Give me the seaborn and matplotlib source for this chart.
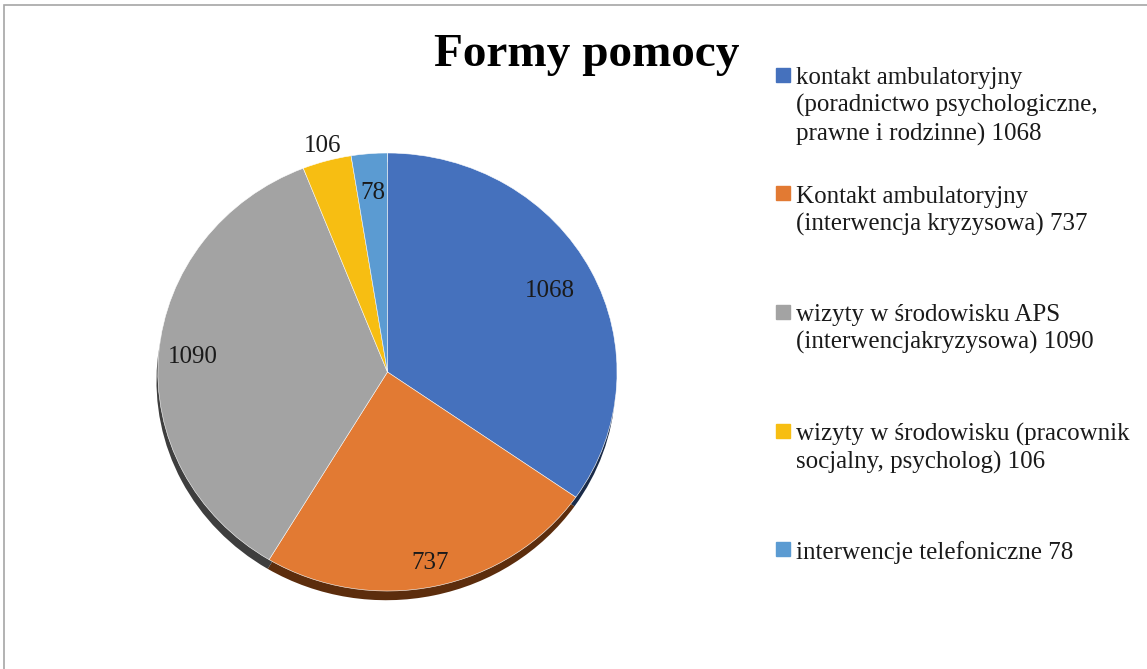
import colorsys

import matplotlib
matplotlib.use("Agg")
import matplotlib.pyplot as plt
import matplotlib.colors as mcolors
from matplotlib.patches import Rectangle
import numpy as np
import seaborn as sns

W, H = 1147, 669

# data
values = [1068, 737, 1090, 106, 78]
legend_labels = [
    "kontakt ambulatoryjny\n(poradnictwo psychologiczne,\nprawne i rodzinne) 1068",
    "Kontakt ambulatoryjny\n(interwencja kryzysowa) 737",
    "wizyty w środowisku APS\n(interwencjakryzysowa) 1090",
    "wizyty w środowisku (pracownik\nsocjalny, psycholog) 106",
    "interwencje telefoniczne 78",
]
colors = ["#4571BD", "#E27A33", "#A3A3A3", "#F7BE12", "#5B9BD2"]
title = "Formy pomocy"

# how far from the centre each value label sits (fraction of radius)
label_dist = [0.80, 0.89, 0.85, 1.07, 0.82]


def darker(c, f=0.38):
    r, g, b = mcolors.to_rgb(c)
    h, l, s = colorsys.rgb_to_hls(r, g, b)
    return colorsys.hls_to_rgb(h, l * f, s)


def fx(x):
    return x / W


def fy(y):
    return 1 - y / H


sns.set_theme(style="white")
plt.rcParams["font.family"] = ["Liberation Serif", "DejaVu Serif"]

fig = plt.figure(figsize=(W / 100, H / 100), dpi=100)
ax = fig.add_axes([0.0976, 0.0511, 0.4804, 0.7857])

# shadow underneath (same wedges, darker, shifted down)
ax.pie(values, colors=[darker(c) for c in colors], startangle=90,
       counterclock=False, center=(-0.006, -0.042),
       wedgeprops=dict(linewidth=0))

wedges, _ = ax.pie(values, colors=colors, startangle=90, counterclock=False,
                   wedgeprops=dict(linewidth=0.4, edgecolor="white"))

ax.set_aspect("auto")
ax.set_xlim(-1.2, 1.2)
ax.set_ylim(-1.2, 1.2)

for w, v, d in zip(wedges, values, label_dist):
    ang = np.deg2rad((w.theta1 + w.theta2) / 2)
    ax.text(d * np.cos(ang), d * np.sin(ang), str(v), ha="center",
            va="center", fontsize=18, color="#1a1a1a")

fig.text(fx(587), fy(55), title, ha="center", va="center",
         fontsize=34, fontweight="bold", color="black")

# legend, one slot per category
for i, (lab, c) in enumerate(zip(legend_labels, colors)):
    y0 = 75 + i * 118.5
    fig.patches.append(Rectangle((fx(776), fy(y0 + 7)), 14 / W, 14 / H,
                                 transform=fig.transFigure, color=c,
                                 figure=fig))
    fig.text(fx(796), fy(y0 - 8), lab, ha="left", va="top", fontsize=18,
             linespacing=1.3, color="#1a1a1a")

# outer frame
fig.patches.append(Rectangle((fx(4), -0.1), 1.2, fy(5) + 0.1,
                             transform=fig.transFigure, fill=False,
                             edgecolor="#a6a6a6", linewidth=1.2, figure=fig))

fig.savefig("out.png", dpi=100)
